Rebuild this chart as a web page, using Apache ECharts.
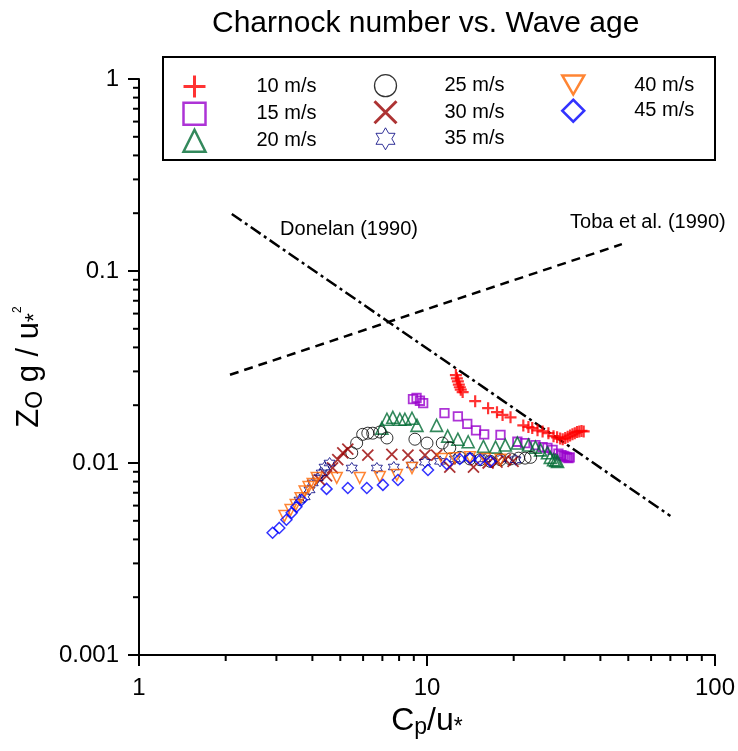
<!DOCTYPE html>
<html><head><meta charset="utf-8">
<script src="https://cdn.jsdelivr.net/npm/echarts@6/dist/echarts.min.js"></script>
<style>html,body{margin:0;padding:0;background:#fff}#c{width:738px;height:751px}</style>
</head><body><div id="c"></div>
<script>
// ---------- data ----------
const seriesNames = ['10 m/s','15 m/s','20 m/s','25 m/s','30 m/s','35 m/s','40 m/s','45 m/s'];
const s10 = [[12.6,0.0287],[12.7,0.0276],[12.8,0.0266],[12.9,0.0256],[13.0,0.0248],[13.1,0.0241],[13.3,0.0234],[14.7,0.0210],[16.3,0.0193],[17.5,0.0184],[18.3,0.0178],[19.5,0.0173],[21.6,0.0157],[22.5,0.0154],[23.2,0.0152],[24.2,0.0148],[25.2,0.0146],[26.4,0.0143],[27.5,0.0138],[28.3,0.0136],[29.0,0.0134],[29.6,0.0133],[30.2,0.0135],[30.8,0.0137],[31.4,0.0139],[32.0,0.0141],[32.6,0.0143],[33.2,0.0145],[33.8,0.0146],[34.4,0.0147],[35.0,0.0146]];
const s15 = [[8.94,0.0215],[9.2,0.0218],[9.45,0.0211],[9.7,0.0205],[11.5,0.0182],[12.8,0.0175],[13.8,0.0160],[14.8,0.0148],[15.8,0.0141],[18.0,0.0140],[20.6,0.0129],[21.9,0.0127],[23.8,0.0124],[25.2,0.0121],[26.2,0.0120],[27.3,0.0117],[28.6,0.0112],[29.3,0.0110],[29.8,0.0109],[30.2,0.0108],[30.6,0.0107],[31.0,0.0106],[31.3,0.0107]];
const s20 = [[6.97,0.0152],[7.26,0.0169],[7.61,0.0173],[8.05,0.0169],[8.38,0.0169],[8.87,0.0171],[9.23,0.0157],[10.8,0.0157],[11.8,0.0138],[12.8,0.0133],[13.9,0.0129],[15.7,0.0122],[17.3,0.0121],[18.7,0.0124],[20.6,0.0127],[22.5,0.0124],[23.8,0.0121],[24.8,0.0117],[26.2,0.0113],[26.8,0.0107],[27.5,0.0104],[28.0,0.0103],[28.4,0.0102]];
const s25 = [[5.48,0.0113],[5.70,0.0127],[5.98,0.0141],[6.23,0.0143],[6.48,0.0143],[6.86,0.0145],[7.26,0.0135],[9.08,0.0133],[10.0,0.0127],[11.3,0.0127],[12.0,0.0120],[13.0,0.0107],[14.1,0.0105],[15.3,0.0104],[16.6,0.0102],[18.0,0.0104],[19.5,0.0105],[20.8,0.0106],[21.9,0.0106],[22.9,0.0107]];
const s30 = [[4.24,0.00816],[4.48,0.00856],[4.70,0.00942],[4.90,0.0104],[5.10,0.0113],[5.31,0.0118],[6.23,0.0110],[7.55,0.0111],[8.59,0.0110],[9.84,0.0110],[10.8,0.0110],[12.0,0.00953],[14.5,0.00953],[16.3,0.0100],[17.5,0.0101],[18.7,0.0104],[19.9,0.0102]];
const s35 = [[3.61,0.00642],[3.76,0.00666],[3.91,0.00724],[4.01,0.00787],[4.17,0.00836],[4.31,0.00888],[4.41,0.00953],[4.59,0.0100],[5.48,0.00942],[6.70,0.00942],[7.67,0.00953],[8.87,0.00976],[9.84,0.0101],[11.1,0.0102],[12.5,0.0105],[14.1,0.0106],[15.9,0.0105],[18.0,0.0105],[20.3,0.0104]];
const s40 = [[3.20,0.00529],[3.36,0.00569],[3.50,0.00605],[3.64,0.00656],[3.76,0.00710],[3.88,0.00750],[4.01,0.00778],[4.14,0.00836],[4.86,0.00836],[5.84,0.00836],[6.86,0.00846],[7.86,0.00866],[8.87,0.00942],[11.3,0.0105],[12.5,0.0106],[14.1,0.0107],[15.9,0.0105],[18.0,0.0104]];
const s45 = [[2.91,0.00433],[3.07,0.00459],[3.25,0.00506],[3.39,0.00550],[3.52,0.00591],[3.67,0.00642],[4.48,0.00733],[5.31,0.00741],[6.18,0.00741],[7.03,0.00769],[7.93,0.00816],[10.08,0.0092],[11.7,0.00988],[13.0,0.0105],[14.1,0.0106],[15.3,0.0104],[16.6,0.0102]];
const donelan = [[2.1,0.198],[70,0.0053]];
const toba = [[2.07,0.0288],[47.5,0.138]];
const donelanLabel = 'Donelan (1990)';
const tobaLabel = 'Toba et al. (1990)';
const donelanLabelAt = [3.09, 0.164];
const tobaLabelAt = [31.4, 0.178];
const xRange = [1, 100];
const yRange = [0.001, 1];
const xMinorTicks = [2,3,4,5,6,7,8,9,20,30,40,50,60,70,80,90];
const yMinorTicks = [0.002,0.003,0.004,0.005,0.006,0.007,0.008,0.009,0.02,0.03,0.04,0.05,0.06,0.07,0.08,0.09,0.2,0.3,0.4,0.5,0.6,0.7,0.8,0.9];

// ---------- styles ----------
const FF = "'Liberation Sans', Arial, sans-serif";
const PLUS = 'path://M0,5L10,5M5,0L5,10';
const CROSS = 'path://M0,0L10,10M10,0L0,10';
const STAR6 = 'path://M50,0L64.43,25L93.3,25L78.87,50L93.3,75L64.43,75L50,100L35.57,75L6.7,75L21.13,50L6.7,25L35.57,25Z';
const TRIDOWN = 'path://M0,0L10,0L5,8.66Z';
const NOFILL = 'rgba(0,0,0,0)';
const styles = [
  {sym: PLUS, size: 12, color: '#ff0000', bw: 2.2, lbw: 3},
  {sym: 'rect', size: 8.5, color: '#9900cc', bw: 1.8, lbw: 2.5},
  {sym: 'triangle', size: 12, color: '#006b33', bw: 1.6, lbw: 2.5},
  {sym: 'circle', size: 12, color: '#000000', bw: 1, lbw: 1.3},
  {sym: CROSS, size: 11, color: '#990000', bw: 1.8, lbw: 3},
  {sym: STAR6, size: 11, color: '#000080', bw: 1, lbw: 1},
  {sym: TRIDOWN, size: 11, color: '#ff6600', bw: 1.5, lbw: 2.5},
  {sym: 'diamond', size: 11, color: '#0000ff', bw: 1.5, lbw: 2.5}
];
const datasets = [s10, s15, s20, s25, s30, s35, s40, s45];

const scatterSeries = datasets.map((d, i) => ({
  name: seriesNames[i], type: 'scatter', data: d,
  symbol: styles[i].sym, symbolSize: styles[i].size,
  itemStyle: {color: NOFILL, borderColor: styles[i].color, borderWidth: styles[i].bw},
  emphasis: {disabled: true}, silent: true, z: 3
}));

function legendItem(i) {
  return {name: seriesNames[i], icon: styles[i].sym,
    itemStyle: {color: NOFILL, borderColor: styles[i].color, borderWidth: styles[i].lbw}};
}
function legendCol(left, pad, idx) {
  return {orient: 'vertical', left: left, top: 74, padding: 0, itemWidth: 22, itemHeight: 22, itemGap: 2.5,
    selectedMode: false, textStyle: {fontSize: 20, lineHeight: 22, fontFamily: FF, color: '#000', padding: [0,0,0,pad]},
    data: idx.map(legendItem)};
}

const axisText = {fontFamily: FF, color: '#000'};
const fmt = v => String(parseFloat(Number(v).toPrecision(6)));

const chart = echarts.init(document.getElementById('c'), null, {renderer: 'canvas'});
chart.setOption({
  animation: false,
  backgroundColor: '#fff',
  title: {text: 'Charnock number vs. Wave age', left: 207, top: 4,
    textStyle: {fontSize: 30, fontWeight: 'normal', fontFamily: FF, color: '#000'}},
  grid: {left: 139, right: 22, top: 79, bottom: 96},
  legend: [legendCol(182, 46, [0,1,2]), legendCol(373, 43, [3,4,5]), legendCol(561, 45, [6,7])],
  graphic: [{type: 'rect', shape: {x: 163, y: 57, width: 552, height: 103},
    style: {fill: 'none', stroke: '#000', lineWidth: 2}, z: 1, silent: true}],
  xAxis: {type: 'log', logBase: 10, min: xRange[0], max: xRange[1],
    axisLine: {show: true, onZero: false, lineStyle: {color: '#000', width: 2}},
    axisTick: {show: true, inside: false, length: 11, lineStyle: {color: '#000', width: 2}},
    minorTick: {show: false}, splitLine: {show: false},
    axisLabel: Object.assign({fontSize: 24, margin: 21, formatter: fmt}, axisText),
    name: '{a|C}{sub|p}{a|/u}{sub|*}', nameLocation: 'middle', nameGap: 45,
    nameTextStyle: {fontFamily: FF, color: '#000', rich: {
      a: {fontSize: 32, lineHeight: 36, fontFamily: FF, color: '#000'},
      sub: {fontSize: 23, lineHeight: 17, verticalAlign: 'bottom', fontFamily: FF, color: '#000'}}}
  },
  yAxis: {type: 'log', logBase: 10, min: yRange[0], max: yRange[1],
    axisLine: {show: true, onZero: false, lineStyle: {color: '#000', width: 2}},
    axisTick: {show: true, inside: false, length: 11, lineStyle: {color: '#000', width: 2}},
    minorTick: {show: false}, splitLine: {show: false},
    axisLabel: Object.assign({fontSize: 24, margin: 20, formatter: fmt}, axisText),
    name: '{a|Z}{sub|O}{a| g / u}{sub|*}{sup|2}', nameLocation: 'middle', nameGap: 92, nameRotate: 90,
    nameTextStyle: {fontFamily: FF, color: '#000', rich: {
      a: {fontSize: 31, lineHeight: 35, fontFamily: FF, color: '#000'},
      sub: {fontSize: 23, lineHeight: 17, verticalAlign: 'bottom', fontFamily: FF, color: '#000'},
      sup: {fontSize: 12, lineHeight: 20, verticalAlign: 'top', fontFamily: FF, color: '#000'}}}
  },
  series: [
    {type: 'custom', coordinateSystem: 'cartesian2d', silent: true, clip: false, z: 5,
      data: xMinorTicks.map(v => [v, yRange[0]]),
      renderItem: (p, api) => { const c = api.coord([api.value(0), api.value(1)]);
        return {type: 'line', shape: {x1: c[0], y1: c[1], x2: c[0], y2: c[1] + 6}, style: {stroke: '#000', lineWidth: 2}}; }},
    {type: 'custom', coordinateSystem: 'cartesian2d', silent: true, clip: false, z: 5,
      data: yMinorTicks.map(v => [xRange[0], v]),
      renderItem: (p, api) => { const c = api.coord([api.value(0), api.value(1)]);
        return {type: 'line', shape: {x1: c[0], y1: c[1], x2: c[0] - 6, y2: c[1]}, style: {stroke: '#000', lineWidth: 2}}; }},
    {name: 'Donelan', type: 'line', data: donelan, symbol: 'none', silent: true, z: 2,
      lineStyle: {color: '#000', width: 2.5, type: [12, 4, 3, 4]},
      markPoint: {symbol: 'circle', symbolSize: 0, silent: true,
        data: [{coord: donelanLabelAt, label: {show: true, position: 'right', distance: 0, formatter: donelanLabel, fontSize: 20, fontFamily: FF, color: '#000'}}]}},
    {name: 'Toba', type: 'line', data: toba, symbol: 'none', silent: true, z: 2,
      lineStyle: {color: '#000', width: 2.5, type: [9, 6]},
      markPoint: {symbol: 'circle', symbolSize: 0, silent: true,
        data: [{coord: tobaLabelAt, label: {show: true, position: 'right', distance: 0, formatter: tobaLabel, fontSize: 20, fontFamily: FF, color: '#000'}}]}}
  ].concat(scatterSeries)
});
</script></body></html>
